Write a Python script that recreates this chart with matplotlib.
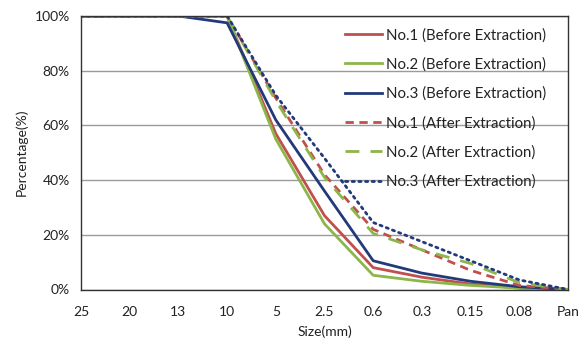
import matplotlib
matplotlib.use("Agg")
import matplotlib.pyplot as plt

plt.rcParams['font.family'] = ['Lato', 'DejaVu Sans']

sizes = ["25", "20", "13", "10", "5", "2.5", "0.6", "0.3", "0.15", "0.08", "Pan"]

no1_before = [100, 100, 100, 100, 57, 27, 8, 4.5, 2, 0.5, 0]
no2_before = [100, 100, 100, 100, 55, 24, 5.2, 3, 1.5, 0.5, 0]
no3_before = [100, 100, 100, 97.5, 62, 36, 10.5, 6, 3, 1, 0]
no1_after = [100, 100, 100, 100, 70, 42, 22, 14.5, 7, 1.5, 0]
no2_after = [100, 100, 100, 100, 69, 41, 20.5, 14.5, 9.5, 2.5, 0]
no3_after = [100, 100, 100, 100, 71, 48, 24.5, 17.5, 10.5, 3.5, 0]

labels = ["No.1 (Before Extraction)", "No.2 (Before Extraction)", "No.3 (Before Extraction)",
          "No.1 (After Extraction)", "No.2 (After Extraction)", "No.3 (After Extraction)"]

red = "#C0504D"
green = "#8DB64A"
blue = "#22397A"

fig = plt.figure(figsize=(5.87, 3.39), dpi=100)
ax = fig.add_axes([81/587, 1-289.5/339, (568-81)/587, (289.5-16)/339])

x = list(range(len(sizes)))
lw = 2.0
ax.plot(x, no1_before, color=red, lw=lw, label=labels[0])
ax.plot(x, no2_before, color=green, lw=lw, label=labels[1])
ax.plot(x, no3_before, color=blue, lw=lw, label=labels[2])
ax.plot(x, no1_after, color=red, lw=lw, linestyle=(0, (3, 2)), label=labels[3])
ax.plot(x, no2_after, color=green, lw=lw, linestyle=(0, (5, 4)), label=labels[4])
ax.plot(x, no3_after, color=blue, lw=lw, linestyle=(0, (0.8, 1.6)), dash_capstyle='round', label=labels[5])

ax.set_xlim(0, 10)
ax.set_ylim(0, 100)
ax.set_xticks(x)
ax.set_xticklabels(sizes)
ax.set_yticks([0, 20, 40, 60, 80, 100])
ax.set_yticklabels(["0%", "20%", "40%", "60%", "80%", "100%"])
ax.tick_params(axis='both', length=0, labelsize=10, colors='#222222')
ax.tick_params(axis='x', pad=12)
ax.tick_params(axis='y', pad=8)
ax.grid(axis='y', color='#9a9a9a', lw=1.0)
ax.set_axisbelow(True)
for s in ax.spines.values():
    s.set_color('#333333')
    s.set_linewidth(1.0)

ax.set_xlabel("Size(mm)", fontsize=10, labelpad=5, color='#222222')
ax.set_ylabel("Percentage(%)", fontsize=10, labelpad=5, color='#222222')

leg = ax.legend(loc='upper left', bbox_to_anchor=((345-81)/487, (289.5-28)/273.5), frameon=False,
                fontsize=10.8, handlelength=2.45, handletextpad=0.25, labelspacing=1.0,
                borderaxespad=0, borderpad=0)
for t in leg.get_texts():
    t.set_color('#222222')

fig.savefig("out.png", dpi=100)
